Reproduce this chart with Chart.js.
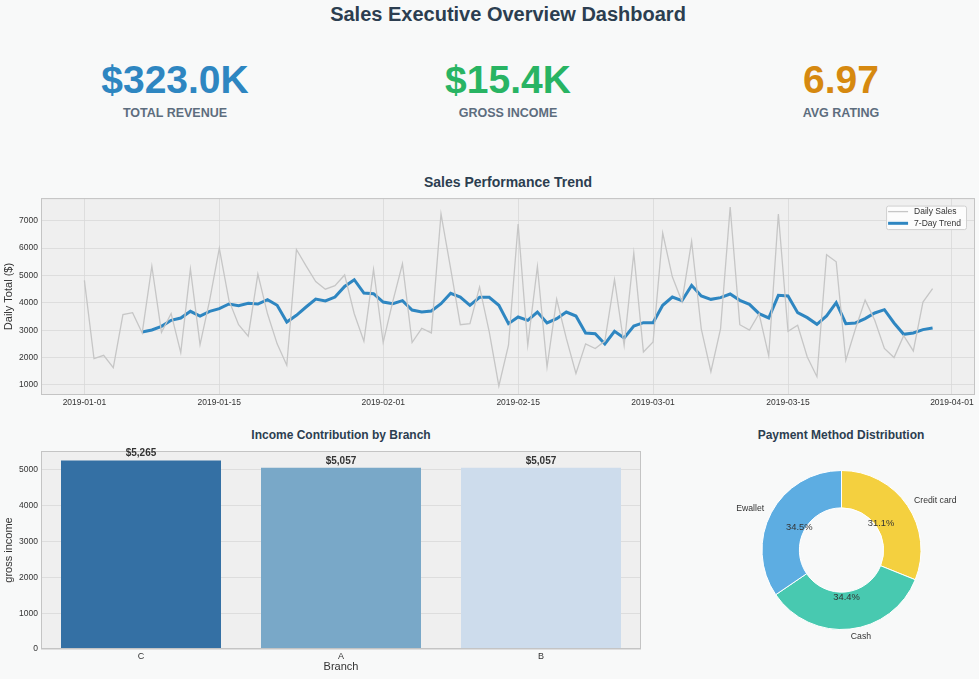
<!DOCTYPE html>
<html>
<head>
<meta charset="utf-8">
<title>Sales Executive Overview Dashboard</title>
<script src="https://cdn.jsdelivr.net/npm/chart.js@4.4.1/dist/chart.umd.min.js"></script>
<style>
    html, body { margin: 0; padding: 0; }
    body {
        width: 979px; height: 679px; overflow: hidden; position: relative;
        background: #f8f9f9;
        font-family: "Liberation Sans", Arial, sans-serif;
    }
    .txt { position: absolute; white-space: nowrap; transform: translateX(-50%); font-weight: bold; }
    canvas { position: absolute; }
</style>
</head>
<body>
<div class="txt" style="left:508px; top:2px; font-size:20px; line-height:24px; color:#2c3e50;">Sales Executive Overview Dashboard</div>
<div id="kpis"></div>
<div class="txt" style="left:508px; top:173px; font-size:14px; line-height:18px; color:#2c3e50;">Sales Performance Trend</div>
<div class="txt" style="left:341px; top:427px; font-size:12px; line-height:16px; color:#2c3e50;">Income Contribution by Branch</div>
<div class="txt" style="left:841px; top:427px; font-size:12px; line-height:16px; color:#2c3e50;">Payment Method Distribution</div>

<canvas id="trendChart" width="979" height="225" style="left:0; top:190px;"></canvas>
<canvas id="branchChart" width="645" height="239" style="left:0; top:440px;"></canvas>
<canvas id="paymentChart" width="279" height="200" style="left:700px; top:450px;"></canvas>

<script>
"use strict";

// KPI cards at the top.
const kpiValues = ["$323.0K", "$15.4K", "6.97"];
const kpiLabels = ["TOTAL REVENUE", "GROSS INCOME", "AVG RATING"];
const kpiColors = ["#2e86c1", "#28b463", "#d68910"];
const kpiCenters = [175, 508, 841];

// Daily totals from 2019-01-01 onwards, one value per day.
const startDate = "2019-01-01";
const dailySales = [
    4820, 1960, 2080, 1630, 3570, 3640, 2900, 5340, 2920, 3610,
    2180, 5240, 2470, 4100, 5990, 4090, 3200, 2780, 5050, 3600,
    2500, 1720, 5950, 5350, 4780, 4500, 4630, 5020, 3600, 2600,
    5220, 2550, 4050, 5430, 2550, 3070, 2900, 7250, 5250, 3200,
    3240, 4580, 2950, 960, 2450, 6880, 2450, 5330, 1650, 4130,
    2700, 1420, 2500, 2330, 2600, 4850, 2440, 5820, 2200, 2570,
    6550, 4950, 4050, 6250, 3050, 1480, 3050, 7500, 3200, 3000,
    3600, 2060, 7250, 2960, 3180, 2020, 1300, 5760, 5500, 1900,
    3050, 4100, 3360, 2330, 2000, 2800, 2240, 4030, 4520
];
// 7-day trend (starts on the 7th day).
const trendSales = [
    null, null, null, null, null, null, 2935, 3008, 3142, 3361,
    3446, 3690, 3519, 3690, 3787, 3957, 3897, 3982, 3957, 4116,
    3909, 3300, 3544, 3848, 4140, 4067, 4213, 4600, 4846, 4359,
    4335, 4030, 3970, 4079, 3738, 3665, 3702, 3970, 4347, 4213,
    3909, 4201, 4201, 3909, 3239, 3483, 3361, 3665, 3264, 3422,
    3665, 3519, 2899, 2874, 2497, 2960, 2716, 3154, 3276, 3276,
    3909, 4213, 4079, 4639, 4250, 4128, 4189, 4323, 4092, 3945,
    3604, 3446, 4274, 4250, 3640, 3458, 3215, 3519, 4006, 3239,
    3264, 3422, 3629, 3750, 3264, 2850, 2899, 3020, 3081
];
const dateTicks = ["2019-01-01", "2019-01-15", "2019-02-01", "2019-02-15", "2019-03-01", "2019-03-15", "2019-04-01"];
const salesTicks = [1000, 2000, 3000, 4000, 5000, 6000, 7000];

// Gross income per branch.
const branches = ["C", "A", "B"];
const branchIncome = [5265, 5057, 5057];
const incomeTicks = [0, 1000, 2000, 3000, 4000, 5000];

// Payment methods, share in percent.
const payMethods = ["Credit card", "Cash", "Ewallet"];
const payShares = [31.1, 34.4, 34.5];

const FONT = '"Liberation Sans", Arial, sans-serif';
Chart.defaults.font.family = FONT;
Chart.defaults.color = "#333333";

window.onload = function() {
    maakKpis();
    tekenTrend();
    tekenBranches();
    tekenBetaling();
};

function maakKpis() {
    const box = document.getElementById("kpis");
    kpiValues.forEach((waarde, i) => {
        const v = document.createElement("div");
        v.className = "txt";
        v.style.cssText = `left:${kpiCenters[i]}px; top:57px; font-size:39px; line-height:46px; color:${kpiColors[i]};`;
        v.innerText = waarde;
        box.appendChild(v);
        const l = document.createElement("div");
        l.className = "txt";
        l.style.cssText = `left:${kpiCenters[i]}px; top:105px; font-size:12.5px; line-height:16px; color:#5d6d7e;`;
        l.innerText = kpiLabels[i];
        box.appendChild(l);
    });
}

// Grey plot background plus a thin frame round the plot area.
const plotFrame = {
    id: "plotFrame",
    beforeDraw(chart) {
        const a = chart.chartArea, c = chart.ctx;
        c.save();
        c.fillStyle = "#efefef";
        c.fillRect(a.left, a.top, a.right - a.left, a.bottom - a.top);
        c.restore();
    },
    afterDraw(chart) {
        const a = chart.chartArea, c = chart.ctx;
        c.save();
        c.strokeStyle = "#c4c4c4";
        c.lineWidth = 1;
        c.strokeRect(a.left + 0.5, a.top + 0.5, a.right - a.left - 1, a.bottom - a.top - 1);
        c.restore();
    }
};

// Legend box in the top right corner of the trend plot.
const cornerLegend = {
    id: "cornerLegend",
    afterDraw(chart) {
        const a = chart.chartArea, c = chart.ctx;
        const sets = chart.data.datasets;
        c.save();
        c.font = "8.5px " + FONT;
        const tekstBreed = Math.max(...sets.map(s => c.measureText(s.label).width));
        const w = 2 + 20 + 6 + tekstBreed + 5, h = 23.5;
        const x = a.right - 9 - w, y = a.top + 7.5;
        c.fillStyle = "rgba(255,255,255,0.8)";
        c.strokeStyle = "#d0d0d0";
        c.lineWidth = 1;
        c.beginPath();
        c.roundRect(x + 0.5, y + 0.5, w, h, 2);
        c.fill();
        c.stroke();
        sets.forEach((s, i) => {
            const ly = y + 6 + i * 11.7;
            c.strokeStyle = s.borderColor;
            c.lineWidth = s.borderWidth;
            c.beginPath();
            c.moveTo(x + 2, ly);
            c.lineTo(x + 22, ly);
            c.stroke();
            c.fillStyle = "#333333";
            c.textBaseline = "middle";
            c.fillText(s.label, x + 28, ly);
        });
        c.restore();
    }
};

function dagNummer(datum) {
    return (Date.parse(datum) - Date.parse(startDate)) / 86400000;
}

function tekenTrend() {
    const ctx = document.getElementById("trendChart").getContext("2d");
    new Chart(ctx, {
        type: "line",
        data: {
            datasets: [
                {
                    label: "Daily Sales",
                    data: dailySales.map((v, i) => ({ x: i, y: v })),
                    borderColor: "#c6c6c6",
                    borderWidth: 1.3,
                    pointRadius: 0,
                    tension: 0
                },
                {
                    label: "7-Day Trend",
                    data: trendSales.map((v, i) => ({ x: i, y: v })),
                    borderColor: "#2e86c1",
                    borderWidth: 3,
                    pointRadius: 0,
                    tension: 0
                }
            ]
        },
        options: {
            responsive: false,
            animation: false,
            layout: { padding: { top: 7, right: 4, left: 0, bottom: 0 } },
            plugins: { legend: { display: false }, tooltip: { enabled: false } },
            scales: {
                x: {
                    type: "linear",
                    min: -4.5,
                    max: 92.4,
                    afterBuildTicks: s => { s.ticks = dateTicks.map(d => ({ value: dagNummer(d) })); },
                    afterFit: s => { s.height = 20; },
                    ticks: {
                        callback: (v, i) => dateTicks[i],
                        autoSkip: false, maxRotation: 0, padding: 3,
                        font: { size: 8.5 }, color: "#333333"
                    },
                    grid: { color: "#d8d8d8", lineWidth: 0.8, drawTicks: false },
                    border: { display: false }
                },
                y: {
                    min: 630,
                    max: 7830,
                    afterBuildTicks: s => { s.ticks = salesTicks.map(v => ({ value: v })); },
                    afterFit: s => { s.width = 41; },
                    ticks: { callback: v => String(v), padding: 3, font: { size: 8.5 }, color: "#333333" },
                    grid: { color: "#d8d8d8", lineWidth: 0.8, drawTicks: false },
                    border: { display: false },
                    title: { display: true, text: "Daily Total ($)", font: { size: 11 }, color: "#333333", padding: { top: 2.5, bottom: 0 } }
                }
            }
        },
        plugins: [plotFrame, cornerLegend]
    });
}

// Value labels above the bars, drawn after the frame so they sit on top.
const barLabels = {
    id: "barLabels",
    afterDraw(chart) {
        const c = chart.ctx;
        const meta = chart.getDatasetMeta(0);
        c.save();
        c.font = "bold 10px " + FONT;
        c.fillStyle = "#333333";
        c.textAlign = "center";
        c.textBaseline = "middle";
        meta.data.forEach((bar, i) => {
            c.fillText("$" + Math.round(branchIncome[i]).toLocaleString("en-US"), bar.x, bar.y - 7);
        });
        c.restore();
    }
};

function tekenBranches() {
    const ctx = document.getElementById("branchChart").getContext("2d");
    new Chart(ctx, {
        type: "bar",
        data: {
            labels: branches,
            datasets: [{
                data: branchIncome,
                backgroundColor: ["#3470a4", "#79a8c8", "#cddcec"],
                categoryPercentage: 0.8,
                barPercentage: 1.0,
                borderWidth: 0
            }]
        },
        options: {
            responsive: false,
            animation: false,
            layout: { padding: { top: 11, right: 4, left: 0, bottom: 0 } },
            plugins: { legend: { display: false }, tooltip: { enabled: false } },
            scales: {
                x: {
                    afterFit: s => { s.height = 30; },
                    ticks: { padding: 2, font: { size: 9 }, color: "#333333" },
                    grid: { display: false, drawTicks: false },
                    border: { display: false },
                    title: { display: true, text: "Branch", font: { size: 11 }, color: "#333333", padding: { top: 0, bottom: 5.5 } }
                },
                y: {
                    min: 0,
                    max: 5528,
                    afterBuildTicks: s => { s.ticks = incomeTicks.map(v => ({ value: v })); },
                    afterFit: s => { s.width = 41; },
                    ticks: { callback: v => String(v), padding: 3, font: { size: 8.5 }, color: "#333333" },
                    grid: { color: "#d8d8d8", lineWidth: 0.8, drawTicks: false },
                    border: { display: false },
                    title: { display: true, text: "gross income", font: { size: 11 }, color: "#333333", padding: { top: 2.7, bottom: 0 } }
                }
            }
        },
        plugins: [plotFrame, barLabels]
    });
}

// Percentages inside the ring and method names just outside it.
const ringLabels = {
    id: "ringLabels",
    afterDatasetsDraw(chart) {
        const c = chart.ctx;
        const meta = chart.getDatasetMeta(0);
        c.save();
        c.fillStyle = "#333333";
        c.textBaseline = "middle";
        meta.data.forEach((arc, i) => {
            const mid = (arc.startAngle + arc.endAngle) / 2;
            const r = arc.outerRadius;
            c.font = "9.4px " + FONT;
            c.textAlign = "center";
            c.fillText(payShares[i].toFixed(1) + "%", arc.x + Math.cos(mid) * r * 0.6, arc.y + Math.sin(mid) * r * 0.6);
            const lx = arc.x + Math.cos(mid) * r * 1.1;
            const ly = arc.y + Math.sin(mid) * r * 1.1;
            c.font = "8.7px " + FONT;
            c.textAlign = lx > arc.x ? "left" : "right";
            c.fillText(payMethods[i], lx, ly);
        });
        c.restore();
    }
};

function tekenBetaling() {
    const ctx = document.getElementById("paymentChart").getContext("2d");
    new Chart(ctx, {
        type: "doughnut",
        data: {
            labels: payMethods,
            datasets: [{
                data: payShares,
                backgroundColor: ["#f4d03f", "#48c9b0", "#5dade2"],
                borderColor: "#ffffff",
                borderWidth: 1
            }]
        },
        options: {
            responsive: false,
            animation: false,
            cutout: "53%",
            layout: { padding: { top: 20, bottom: 20, left: 4, right: 0 } },
            plugins: { legend: { display: false }, tooltip: { enabled: false } }
        },
        plugins: [ringLabels]
    });
}
</script>
</body>
</html>
